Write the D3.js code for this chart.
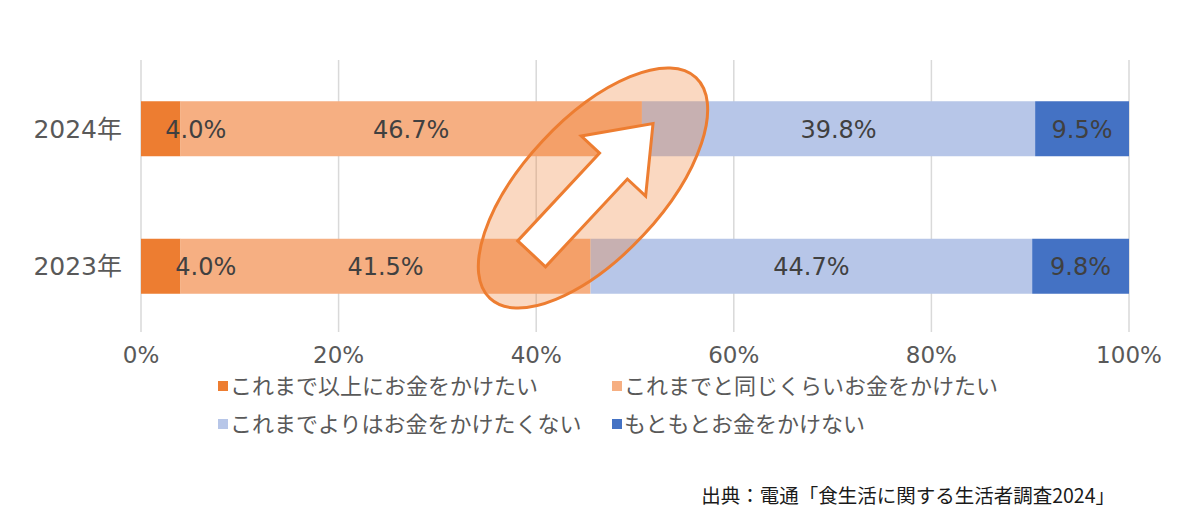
<!DOCTYPE html>
<html>
<head>
<meta charset="utf-8">
<script src="https://cdn.jsdelivr.net/npm/d3@7"></script>
<style>
  body { margin: 0; background: #fff; }
  text { font-family: "DejaVu Sans", "Noto Sans CJK JP", sans-serif; }
  .jp { font-family: "Noto Sans CJK JP", sans-serif; }
</style>
</head>
<body>
<svg id="chart" width="1200" height="518"></svg>
<script>
// data
const years = ["2024年", "2023年"];
const seriesNames = ["これまで以上にお金をかけたい", "これまでと同じくらいお金をかけたい",
                     "これまでよりはお金をかけたくない", "もともとお金をかけない"];
const values2024 = [4.0, 46.7, 39.8, 9.5];
const values2023 = [4.0, 41.5, 44.7, 9.8];
const ticks = [0, 20, 40, 60, 80, 100];
const colors = ["#ED7D31", "#F6AF82", "#B7C6E8", "#4472C4"];
const source = "出典：電通「食生活に関する生活者調査2024」";

const rows = [values2024, values2023];

const svg = d3.select("#chart");

let x = d3.scaleLinear().domain([0, 100]).range([141, 1129]);
let y = d3.scaleBand().domain(years).range([60, 335]).paddingInner(0.6).paddingOuter(0.3);

// gridlines
svg.append("g")
    .selectAll("line")
    .data(ticks)
    .enter()
    .append("line")
      .attr("x1", d => x(d)).attr("x2", d => x(d))
      .attr("y1", 60).attr("y2", 332)
      .attr("stroke", "#d9d9d9")
      .attr("stroke-width", 1.5);

// tick labels
svg.append("g")
    .selectAll("text")
    .data(ticks)
    .enter()
    .append("text")
      .attr("x", d => x(d))
      .attr("y", 363)
      .attr("text-anchor", "middle")
      .attr("fill", "#595959")
      .style("font-size", "23px")
      .text(d => d + "%");

// stacked bars
const labels = [];
rows.forEach((vals, r) => {
    let start = 0;
    const g = svg.append("g");
    vals.forEach((v, i) => {
        g.append("rect")
            .attr("x", x(start))
            .attr("y", y(years[r]))
            .attr("width", x(start + v) - x(start))
            .attr("height", y.bandwidth())
            .attr("fill", colors[i]);
        let cx = (x(start) + x(start + v)) / 2;
        if (i === 0) cx += (r === 0 ? 35 : 45);
        labels.push({x: cx, y: y(years[r]) + y.bandwidth() / 2 + 9, v: v});
        start += v;
    });
    // year label
    svg.append("text")
        .attr("x", 122)
        .attr("y", y(years[r]) + y.bandwidth() / 2 + 9)
        .attr("text-anchor", "end")
        .attr("fill", "#595959")
        .style("font-size", "25px")
        .text(years[r]);
});

// data labels on top of all bars
svg.append("g")
    .selectAll("text")
    .data(labels)
    .enter()
    .append("text")
      .attr("x", d => d.x)
      .attr("y", d => d.y)
      .attr("text-anchor", "middle")
      .attr("fill", "#404040")
      .style("font-size", "24px")
      .text(d => d.v.toFixed(1) + "%");

// annotation: ellipse + arrow
const ann = svg.append("g").attr("transform", "translate(593,188) rotate(-47)");
ann.append("ellipse")
    .attr("rx", 151).attr("ry", 69)
    .attr("fill", "rgba(237,125,49,0.3)")
    .attr("stroke", "#ED7D31")
    .attr("stroke-width", 3);
// block arrow pointing along +x
ann.append("path")
    .attr("d", "M-90,-19 L30,-19 L30,-44 L88,0 L30,44 L30,19 L-90,19 Z")
    .attr("fill", "#fff")
    .attr("stroke", "#ED7D31")
    .attr("stroke-width", 3)
    .attr("stroke-linejoin", "miter");

// legend
const legendPos = [[218, 386], [612, 386], [218, 424], [612, 424]];
seriesNames.forEach((name, i) => {
    const g = svg.append("g").attr("transform", "translate(" + legendPos[i][0] + "," + legendPos[i][1] + ")");
    g.append("rect").attr("x", 0).attr("y", -5).attr("width", 10).attr("height", 10).attr("fill", colors[i]);
    g.append("text").attr("class", "jp").attr("x", 12).attr("y", 8)
        .attr("fill", "#595959")
        .style("font-size", "22px")
        .text(name);
});

// source
svg.append("text")
    .attr("class", "jp")
    .attr("x", 1115)
    .attr("y", 503)
    .attr("text-anchor", "end")
    .attr("fill", "#1a1a1a")
    .style("font-size", "19.5px")
    .text(source);
</script>
</body>
</html>
